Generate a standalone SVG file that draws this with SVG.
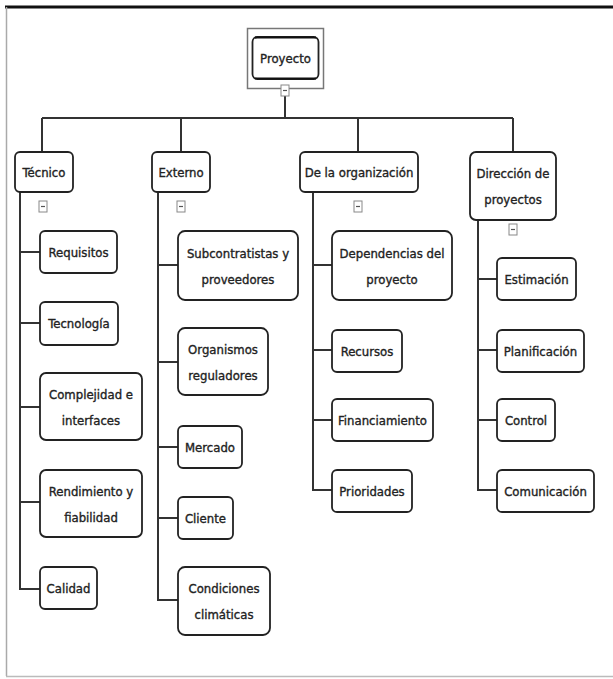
<svg xmlns="http://www.w3.org/2000/svg" width="613" height="679" viewBox="0 0 613 679">
<style>
.n{fill:#fff;stroke:#222;stroke-width:1.8}
.t{font-family:"DejaVu Sans Condensed","DejaVu Sans",sans-serif;font-size:13px;fill:#222;stroke:#222;stroke-width:0.35;text-anchor:middle}
.c{fill:none;stroke:#333;stroke-width:2}
.m{fill:#fff;stroke:#888;stroke-width:1}
.ml{stroke:#555;stroke-width:1.2}
</style>
<rect x="0" y="0" width="613" height="679" fill="#fff"/>
<line x1="5" y1="7" x2="613" y2="7" stroke="#111" stroke-width="3"/>
<line x1="6.5" y1="7" x2="6.5" y2="676" stroke="#aaa" stroke-width="1.5"/>
<line x1="6" y1="676.5" x2="613" y2="676.5" stroke="#bbb" stroke-width="1.5"/>

<g id="connectors">
<path class="c" d="M285 92V118M42 118H513M42 118V152M181 118V152M358 118V152M513 118V152"/>
<path class="c" d="M20 192V589H40M20 252H40M20 323H40M20 407H40M20 502H40"/>
<path class="c" d="M158 192V600H178M158 265H178M158 362H178M158 447H178M158 518H178"/>
<path class="c" d="M313 192V490H332M313 265H332M313 350H332M313 420H332"/>
<path class="c" d="M478 220V490H497M478 279H497M478 350H497M478 420H497"/>
</g>

<g id="proyecto">
<rect x="247.5" y="28.5" width="76" height="60" fill="#fff" stroke="#777" stroke-width="1.5"/>
<rect x="252.5" y="37" width="66" height="42" rx="5" class="n"/>
<line x1="255" y1="37.5" x2="316" y2="37.5" stroke="#111" stroke-width="2"/>
<line x1="255" y1="78.5" x2="316" y2="78.5" stroke="#111" stroke-width="2"/>
<text class="t" x="285.5" y="63">Proyecto</text>
<rect class="m" x="281" y="85" width="8" height="11"/><line class="ml" x1="283" y1="90.5" x2="287" y2="90.5"/>
</g>

<g id="tecnico">
<rect class="n" x="15" y="152" width="58" height="40" rx="5"/>
<text class="t" x="44" y="176.5">Técnico</text>
<rect class="m" x="39" y="201" width="8" height="11"/><line class="ml" x1="41" y1="206.5" x2="45" y2="206.5"/>
</g>
<g id="externo">
<rect class="n" x="152" y="152" width="58" height="40" rx="5"/>
<text class="t" x="181" y="176.5">Externo</text>
<rect class="m" x="177" y="201" width="8" height="11"/><line class="ml" x1="179" y1="206.5" x2="183" y2="206.5"/>
</g>
<g id="organizacion">
<rect class="n" x="300" y="152" width="118" height="40" rx="5"/>
<text class="t" x="359" y="176.5">De la organización</text>
<rect class="m" x="354" y="201" width="8" height="11"/><line class="ml" x1="356" y1="206.5" x2="360" y2="206.5"/>
</g>
<g id="direccion">
<rect class="n" x="470" y="152" width="86" height="68" rx="6"/>
<text class="t" x="513" y="177.5">Dirección de</text>
<text class="t" x="513" y="203.5">proyectos</text>
<rect class="m" x="509" y="224" width="8" height="11"/><line class="ml" x1="511" y1="229.5" x2="515" y2="229.5"/>
</g>

<g id="requisitos"><rect class="n" x="40" y="231" width="77" height="42" rx="5"/><text class="t" x="78.5" y="256.5">Requisitos</text></g>
<g id="tecnologia"><rect class="n" x="40" y="302" width="78" height="43" rx="5"/><text class="t" x="79" y="327.5">Tecnología</text></g>
<g id="complejidad"><rect class="n" x="40" y="373" width="102" height="67" rx="6"/><text class="t" x="91" y="398.5">Complejidad e</text><text class="t" x="91" y="424.5">interfaces</text></g>
<g id="rendimiento"><rect class="n" x="40" y="470" width="102" height="67" rx="6"/><text class="t" x="91" y="495.5">Rendimiento y</text><text class="t" x="91" y="521.5">fiabilidad</text></g>
<g id="calidad"><rect class="n" x="40" y="567" width="57" height="42" rx="5"/><text class="t" x="68.5" y="592.5">Calidad</text></g>

<g id="subcontratistas"><rect class="n" x="178" y="231" width="120" height="69" rx="7"/><text class="t" x="238" y="257.5">Subcontratistas y</text><text class="t" x="238" y="283.5">proveedores</text></g>
<g id="organismos"><rect class="n" x="178" y="328" width="90" height="67" rx="7"/><text class="t" x="223" y="353.5">Organismos</text><text class="t" x="223" y="379.5">reguladores</text></g>
<g id="mercado"><rect class="n" x="178" y="426" width="64" height="42" rx="5"/><text class="t" x="210" y="451.5">Mercado</text></g>
<g id="cliente"><rect class="n" x="178" y="497" width="55" height="42" rx="5"/><text class="t" x="205.5" y="522.5">Cliente</text></g>
<g id="condiciones"><rect class="n" x="178" y="567" width="92" height="68" rx="7"/><text class="t" x="224" y="592.5">Condiciones</text><text class="t" x="224" y="618.5">climáticas</text></g>

<g id="dependencias"><rect class="n" x="332" y="231" width="120" height="69" rx="7"/><text class="t" x="392" y="257.5">Dependencias del</text><text class="t" x="392" y="283.5">proyecto</text></g>
<g id="recursos"><rect class="n" x="332" y="330" width="70" height="42" rx="5"/><text class="t" x="367" y="355.5">Recursos</text></g>
<g id="financiamiento"><rect class="n" x="332" y="399" width="101" height="42" rx="5"/><text class="t" x="382.5" y="424.5">Financiamiento</text></g>
<g id="prioridades"><rect class="n" x="332" y="470" width="80" height="42" rx="5"/><text class="t" x="372" y="495.5">Prioridades</text></g>

<g id="estimacion"><rect class="n" x="497" y="258" width="79" height="42" rx="5"/><text class="t" x="536.5" y="283.5">Estimación</text></g>
<g id="planificacion"><rect class="n" x="497" y="330" width="87" height="42" rx="5"/><text class="t" x="540.5" y="355.5">Planificación</text></g>
<g id="control"><rect class="n" x="497" y="399" width="58" height="42" rx="5"/><text class="t" x="526" y="424.5">Control</text></g>
<g id="comunicacion"><rect class="n" x="497" y="470" width="97" height="42" rx="5"/><text class="t" x="545.5" y="495.5">Comunicación</text></g>
</svg>
